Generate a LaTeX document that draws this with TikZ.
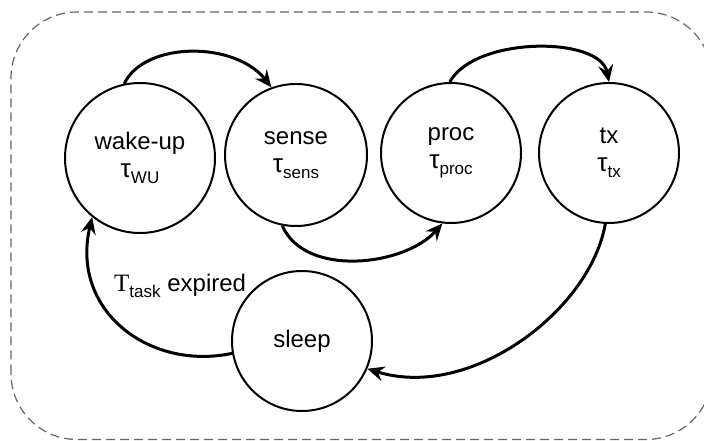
\documentclass[tikz,border=0pt]{standalone}
\usepackage{fontspec}
\setmainfont{Liberation Sans}
\newfontfamily\serifT{Liberation Serif}
\usetikzlibrary{arrows.meta}
\newcommand\mysub[1]{\raisebox{-6pt}{\fontsize{17}{17}\selectfont #1}}
\newcommand\mytau{{\fontsize{26}{28}\selectfont τ}}
\begin{document}
\begin{tikzpicture}[x=1pt,y=1pt,
  state/.style={circle, draw, line width=2pt, inner sep=0pt, align=center,
    font=\fontsize{24}{28}\selectfont},
  trans/.style={line width=3pt, -{Stealth[length=17pt,width=15pt,inset=6pt]}},
  frame/.style={draw=black!60, line width=1.2pt, dash pattern=on 9pt off 5pt, rounded corners=66pt}]
\useasboundingbox (0,0) rectangle (704,441);
\begin{scope}
\clip (0,0) rectangle (704,441);
\draw[frame] (11,1.5) rectangle (712,429);
\end{scope}
\node[state, minimum size=150pt] (wu) at (140,283) {wake-up\\\mytau\mysub{WU}};
\node[state, minimum size=142pt] (sense) at (296,286) {sense\\\mytau\mysub{sens}};
\node[state, minimum size=140pt] (proc) at (451,288) {proc\\\mytau\mysub{proc}};
\node[state, minimum size=140pt] (tx) at (609,288) {tx\\\mytau\mysub{tx}};
\node[state, minimum size=140pt] (sleep) at (302,100) {sleep};
\draw[trans] (wu.102) .. controls (145,400) and (235,400) .. (sense.110);
\draw[trans] (proc.91) .. controls (475,405) and (600,405) .. (tx.90);
\draw[trans] (sense.259) .. controls (305,163) and (405,175) .. (proc.263);
\draw[trans] (tx.267) .. controls (590,130) and (470,40) .. (sleep.-23);
\draw[trans] (sleep.190) .. controls (150,70) and (70,130) .. (wu.231);
\node[anchor=base west, inner sep=0pt, font=\fontsize{24}{28}\selectfont] (lbl) at (114,149)
  {{\serifT\fontsize{25}{28}\selectfont T}\mysub{task} expired};
\end{tikzpicture}
\end{document}
